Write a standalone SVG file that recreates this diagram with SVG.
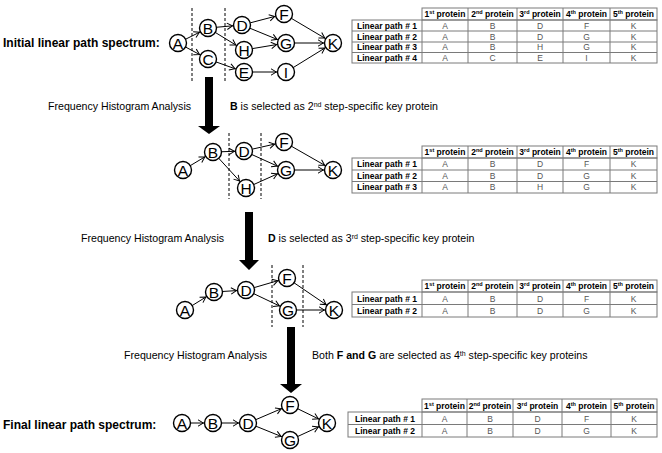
<svg xmlns="http://www.w3.org/2000/svg" width="662" height="453" viewBox="0 0 662 453">
<defs>
<style>
text{font-family:"Liberation Sans",Arial,sans-serif;}
.n circle{fill:#fff;stroke:#000;stroke-width:1.4}
.n text{font-size:15.5px;text-anchor:middle}
.e line{stroke:#000;stroke-width:1;marker-end:url(#ah)}
.dash{stroke:#000;stroke-width:1;stroke-dasharray:3 2}
.big{fill:#000}
.title{font-size:12px;font-weight:bold}
.cap{font-size:10.6px}
.tb line,.tb rect{stroke:#7a7a7a;stroke-width:1;fill:none}
.th{font-size:8.5px;font-weight:bold;text-anchor:middle}
.tl{font-size:8.5px;font-weight:bold;text-anchor:middle}
.td{font-size:8.5px;fill:#555;text-anchor:middle}
</style>
<marker id="ah" markerUnits="userSpaceOnUse" viewBox="-17 -5 19 10" markerWidth="19" markerHeight="10" refX="0" refY="0" orient="auto">
<path d="M-15,-3.2 L-9.6,0 L-15,3.2" fill="none" stroke="#000" stroke-width="1"/>
</marker>
</defs>
<rect width="662" height="453" fill="#fff"/>

<!-- captions -->
<text class="title" x="3" y="47">Initial linear path spectrum:</text>
<text class="title" x="3" y="429">Final linear path spectrum:</text>
<text class="cap" x="48" y="110">Frequency Histogram Analysis</text>
<text class="cap" x="230" y="110"><tspan font-weight="bold">B</tspan> is selected as 2<tspan font-size="7" baseline-shift="super">nd</tspan> step-specific key protein</text>
<text class="cap" x="81" y="242">Frequency Histogram Analysis</text>
<text class="cap" x="268" y="242"><tspan font-weight="bold">D</tspan> is selected as 3<tspan font-size="7" baseline-shift="super">rd</tspan> step-specific key protein</text>
<text class="cap" x="124" y="359">Frequency Histogram Analysis</text>
<text class="cap" x="312" y="359">Both <tspan font-weight="bold">F and G</tspan> are selected as 4<tspan font-size="7" baseline-shift="super">th</tspan> step-specific key proteins</text>

<!-- big arrows -->
<polygon class="big" points="205,77 213,77 213,126 220,126 209,134 198,126 205,126"/>
<polygon class="big" points="245,212 253,212 253,260 259,260 249,270 239,260 245,260"/>
<polygon class="big" points="287,327 295,327 295,384 302,384 291,393 280,384 287,384"/>

<!-- dashed separators -->
<line class="dash" x1="192" y1="8" x2="192" y2="82"/>
<line class="dash" x1="225" y1="8" x2="225" y2="82"/>
<line class="dash" x1="229" y1="133" x2="229" y2="199"/>
<line class="dash" x1="261" y1="133" x2="261" y2="199"/>
<line class="dash" x1="272" y1="265" x2="272" y2="327"/>
<line class="dash" x1="303" y1="265" x2="303" y2="327"/>

<!-- connectors -->
<g id="connectors" class="e">
<line x1="178" y1="43" x2="208" y2="28"/>
<line x1="178" y1="43" x2="208" y2="59"/>
<line x1="208" y1="28" x2="242" y2="25"/>
<line x1="208" y1="28" x2="244" y2="50"/>
<line x1="208" y1="59" x2="244" y2="72"/>
<line x1="242" y1="25" x2="284" y2="14"/>
<line x1="242" y1="25" x2="286" y2="43"/>
<line x1="244" y1="50" x2="286" y2="43"/>
<line x1="244" y1="72" x2="286" y2="72"/>
<line x1="284" y1="14" x2="333" y2="43"/>
<line x1="286" y1="43" x2="333" y2="43"/>
<line x1="286" y1="72" x2="333" y2="43"/>

<line x1="183" y1="170" x2="213" y2="152"/>
<line x1="213" y1="152" x2="244" y2="151"/>
<line x1="213" y1="152" x2="246" y2="188"/>
<line x1="244" y1="151" x2="284" y2="142"/>
<line x1="244" y1="151" x2="286" y2="170"/>
<line x1="246" y1="188" x2="286" y2="170"/>
<line x1="284" y1="142" x2="333" y2="170"/>
<line x1="286" y1="170" x2="333" y2="170"/>

<line x1="185" y1="310" x2="214" y2="292"/>
<line x1="214" y1="292" x2="246" y2="290"/>
<line x1="246" y1="290" x2="287" y2="278"/>
<line x1="246" y1="290" x2="288" y2="310"/>
<line x1="287" y1="278" x2="334" y2="310"/>
<line x1="288" y1="310" x2="334" y2="310"/>

<line x1="182" y1="423" x2="213" y2="423"/>
<line x1="213" y1="423" x2="248" y2="423"/>
<line x1="248" y1="423" x2="290" y2="405"/>
<line x1="248" y1="423" x2="290" y2="440"/>
<line x1="290" y1="405" x2="327" y2="423"/>
<line x1="290" y1="440" x2="327" y2="423"/>
</g>

<!-- graph 1 nodes -->
<g id="g1-A" class="n"><circle cx="178" cy="43" r="8.5"/><text x="178" y="48.5">A</text></g>
<g id="g1-B" class="n"><circle cx="208" cy="28" r="8.5"/><text x="208" y="33.5">B</text></g>
<g id="g1-C" class="n"><circle cx="208" cy="59" r="8.5"/><text x="208" y="64.5">C</text></g>
<g id="g1-D" class="n"><circle cx="242" cy="25" r="8.5"/><text x="242" y="30.5">D</text></g>
<g id="g1-H" class="n"><circle cx="244" cy="50" r="8.5"/><text x="244" y="55.5">H</text></g>
<g id="g1-E" class="n"><circle cx="244" cy="72" r="8.5"/><text x="244" y="77.5">E</text></g>
<g id="g1-F" class="n"><circle cx="284" cy="14" r="8.5"/><text x="284" y="19.5">F</text></g>
<g id="g1-G" class="n"><circle cx="286" cy="43" r="8.5"/><text x="286" y="48.5">G</text></g>
<g id="g1-I" class="n"><circle cx="286" cy="72" r="8.5"/><text x="286" y="77.5">I</text></g>
<g id="g1-K" class="n"><circle cx="333" cy="43" r="8.5"/><text x="333" y="48.5">K</text></g>

<!-- graph 2 nodes -->
<g id="g2-A" class="n"><circle cx="183" cy="170" r="8.5"/><text x="183" y="175.5">A</text></g>
<g id="g2-B" class="n"><circle cx="213" cy="152" r="8.5"/><text x="213" y="157.5">B</text></g>
<g id="g2-D" class="n"><circle cx="244" cy="151" r="8.5"/><text x="244" y="156.5">D</text></g>
<g id="g2-H" class="n"><circle cx="246" cy="188" r="8.5"/><text x="246" y="193.5">H</text></g>
<g id="g2-F" class="n"><circle cx="284" cy="142" r="8.5"/><text x="284" y="147.5">F</text></g>
<g id="g2-G" class="n"><circle cx="286" cy="170" r="8.5"/><text x="286" y="175.5">G</text></g>
<g id="g2-K" class="n"><circle cx="333" cy="170" r="8.5"/><text x="333" y="175.5">K</text></g>

<!-- graph 3 nodes -->
<g id="g3-A" class="n"><circle cx="185" cy="310" r="8.5"/><text x="185" y="315.5">A</text></g>
<g id="g3-B" class="n"><circle cx="214" cy="292" r="8.5"/><text x="214" y="297.5">B</text></g>
<g id="g3-D" class="n"><circle cx="246" cy="290" r="8.5"/><text x="246" y="295.5">D</text></g>
<g id="g3-F" class="n"><circle cx="287" cy="278" r="8.5"/><text x="287" y="283.5">F</text></g>
<g id="g3-G" class="n"><circle cx="288" cy="310" r="8.5"/><text x="288" y="315.5">G</text></g>
<g id="g3-K" class="n"><circle cx="334" cy="310" r="8.5"/><text x="334" y="315.5">K</text></g>

<!-- graph 4 nodes -->
<g id="g4-A" class="n"><circle cx="182" cy="423" r="8.5"/><text x="182" y="428.5">A</text></g>
<g id="g4-B" class="n"><circle cx="213" cy="423" r="8.5"/><text x="213" y="428.5">B</text></g>
<g id="g4-D" class="n"><circle cx="248" cy="423" r="8.5"/><text x="248" y="428.5">D</text></g>
<g id="g4-F" class="n"><circle cx="290" cy="405" r="8.5"/><text x="290" y="410.5">F</text></g>
<g id="g4-G" class="n"><circle cx="290" cy="440" r="8.5"/><text x="290" y="445.5">G</text></g>
<g id="g4-K" class="n"><circle cx="327" cy="423" r="8.5"/><text x="327" y="428.5">K</text></g>

<!-- table 1 -->
<g id="table1" class="tb">
<rect x="422" y="8" width="235" height="12"/>
<rect x="352" y="20" width="305" height="43"/>
<line x1="422" y1="20" x2="422" y2="63"/>
<line x1="468" y1="8" x2="468" y2="63"/>
<line x1="517" y1="8" x2="517" y2="63"/>
<line x1="563" y1="8" x2="563" y2="63"/>
<line x1="610" y1="8" x2="610" y2="63"/>
<line x1="352" y1="31" x2="657" y2="31"/>
<line x1="352" y1="42" x2="657" y2="42"/>
<line x1="352" y1="52.5" x2="657" y2="52.5"/>
<text class="th" x="445" y="17">1<tspan font-size="5.5" baseline-shift="super">st</tspan> protein</text>
<text class="th" x="492.5" y="17">2<tspan font-size="5.5" baseline-shift="super">nd</tspan> protein</text>
<text class="th" x="540" y="17">3<tspan font-size="5.5" baseline-shift="super">rd</tspan> protein</text>
<text class="th" x="586.5" y="17">4<tspan font-size="5.5" baseline-shift="super">th</tspan> protein</text>
<text class="th" x="633.5" y="17">5<tspan font-size="5.5" baseline-shift="super">th</tspan> protein</text>
<text class="tl" x="387" y="28.5">Linear path # 1</text>
<text class="td" x="445" y="28.5">A</text><text class="td" x="492.5" y="28.5">B</text><text class="td" x="540" y="28.5">D</text><text class="td" x="586.5" y="28.5">F</text><text class="td" x="633.5" y="28.5">K</text>
<text class="tl" x="387" y="39.5">Linear path # 2</text>
<text class="td" x="445" y="39.5">A</text><text class="td" x="492.5" y="39.5">B</text><text class="td" x="540" y="39.5">D</text><text class="td" x="586.5" y="39.5">G</text><text class="td" x="633.5" y="39.5">K</text>
<text class="tl" x="387" y="50">Linear path # 3</text>
<text class="td" x="445" y="50">A</text><text class="td" x="492.5" y="50">B</text><text class="td" x="540" y="50">H</text><text class="td" x="586.5" y="50">G</text><text class="td" x="633.5" y="50">K</text>
<text class="tl" x="387" y="60.5">Linear path # 4</text>
<text class="td" x="445" y="60.5">A</text><text class="td" x="492.5" y="60.5">C</text><text class="td" x="540" y="60.5">E</text><text class="td" x="586.5" y="60.5">I</text><text class="td" x="633.5" y="60.5">K</text>
</g>

<!-- table 2 -->
<g id="table2" class="tb">
<rect x="422" y="146" width="235" height="12"/>
<rect x="352" y="158" width="305" height="35"/>
<line x1="422" y1="158" x2="422" y2="193"/>
<line x1="468" y1="146" x2="468" y2="193"/>
<line x1="517" y1="146" x2="517" y2="193"/>
<line x1="563" y1="146" x2="563" y2="193"/>
<line x1="610" y1="146" x2="610" y2="193"/>
<line x1="352" y1="170" x2="657" y2="170"/>
<line x1="352" y1="181.5" x2="657" y2="181.5"/>
<text class="th" x="445" y="155">1<tspan font-size="5.5" baseline-shift="super">st</tspan> protein</text>
<text class="th" x="492.5" y="155">2<tspan font-size="5.5" baseline-shift="super">nd</tspan> protein</text>
<text class="th" x="540" y="155">3<tspan font-size="5.5" baseline-shift="super">rd</tspan> protein</text>
<text class="th" x="586.5" y="155">4<tspan font-size="5.5" baseline-shift="super">th</tspan> protein</text>
<text class="th" x="633.5" y="155">5<tspan font-size="5.5" baseline-shift="super">th</tspan> protein</text>
<text class="tl" x="387" y="167">Linear path # 1</text>
<text class="td" x="445" y="167">A</text><text class="td" x="492.5" y="167">B</text><text class="td" x="540" y="167">D</text><text class="td" x="586.5" y="167">F</text><text class="td" x="633.5" y="167">K</text>
<text class="tl" x="387" y="178.5">Linear path # 2</text>
<text class="td" x="445" y="178.5">A</text><text class="td" x="492.5" y="178.5">B</text><text class="td" x="540" y="178.5">D</text><text class="td" x="586.5" y="178.5">G</text><text class="td" x="633.5" y="178.5">K</text>
<text class="tl" x="387" y="190">Linear path # 3</text>
<text class="td" x="445" y="190">A</text><text class="td" x="492.5" y="190">B</text><text class="td" x="540" y="190">H</text><text class="td" x="586.5" y="190">G</text><text class="td" x="633.5" y="190">K</text>
</g>

<!-- table 3 -->
<g id="table3" class="tb">
<rect x="422" y="280" width="235" height="12"/>
<rect x="352" y="292" width="305" height="25"/>
<line x1="422" y1="292" x2="422" y2="317"/>
<line x1="468" y1="280" x2="468" y2="317"/>
<line x1="517" y1="280" x2="517" y2="317"/>
<line x1="563" y1="280" x2="563" y2="317"/>
<line x1="610" y1="280" x2="610" y2="317"/>
<line x1="352" y1="304.5" x2="657" y2="304.5"/>
<text class="th" x="445" y="289">1<tspan font-size="5.5" baseline-shift="super">st</tspan> protein</text>
<text class="th" x="492.5" y="289">2<tspan font-size="5.5" baseline-shift="super">nd</tspan> protein</text>
<text class="th" x="540" y="289">3<tspan font-size="5.5" baseline-shift="super">rd</tspan> protein</text>
<text class="th" x="586.5" y="289">4<tspan font-size="5.5" baseline-shift="super">th</tspan> protein</text>
<text class="th" x="633.5" y="289">5<tspan font-size="5.5" baseline-shift="super">th</tspan> protein</text>
<text class="tl" x="387" y="301.5">Linear path # 1</text>
<text class="td" x="445" y="301.5">A</text><text class="td" x="492.5" y="301.5">B</text><text class="td" x="540" y="301.5">D</text><text class="td" x="586.5" y="301.5">F</text><text class="td" x="633.5" y="301.5">K</text>
<text class="tl" x="387" y="314">Linear path # 2</text>
<text class="td" x="445" y="314">A</text><text class="td" x="492.5" y="314">B</text><text class="td" x="540" y="314">D</text><text class="td" x="586.5" y="314">G</text><text class="td" x="633.5" y="314">K</text>
</g>

<!-- table 4 -->
<g id="table4" class="tb">
<rect x="422" y="399" width="235" height="13"/>
<rect x="348" y="412" width="309" height="25"/>
<line x1="422" y1="412" x2="422" y2="437"/>
<line x1="467" y1="399" x2="467" y2="437"/>
<line x1="513" y1="399" x2="513" y2="437"/>
<line x1="562" y1="399" x2="562" y2="437"/>
<line x1="611" y1="399" x2="611" y2="437"/>
<line x1="348" y1="424.5" x2="657" y2="424.5"/>
<text class="th" x="444.5" y="408.5">1<tspan font-size="5.5" baseline-shift="super">st</tspan> protein</text>
<text class="th" x="490" y="408.5">2<tspan font-size="5.5" baseline-shift="super">nd</tspan> protein</text>
<text class="th" x="537.5" y="408.5">3<tspan font-size="5.5" baseline-shift="super">rd</tspan> protein</text>
<text class="th" x="586.5" y="408.5">4<tspan font-size="5.5" baseline-shift="super">th</tspan> protein</text>
<text class="th" x="634" y="408.5">5<tspan font-size="5.5" baseline-shift="super">th</tspan> protein</text>
<text class="tl" x="385" y="421.5">Linear path # 1</text>
<text class="td" x="444.5" y="421.5">A</text><text class="td" x="490" y="421.5">B</text><text class="td" x="537.5" y="421.5">D</text><text class="td" x="586.5" y="421.5">F</text><text class="td" x="634" y="421.5">K</text>
<text class="tl" x="385" y="434">Linear path # 2</text>
<text class="td" x="444.5" y="434">A</text><text class="td" x="490" y="434">B</text><text class="td" x="537.5" y="434">D</text><text class="td" x="586.5" y="434">G</text><text class="td" x="634" y="434">K</text>
</g>
</svg>
